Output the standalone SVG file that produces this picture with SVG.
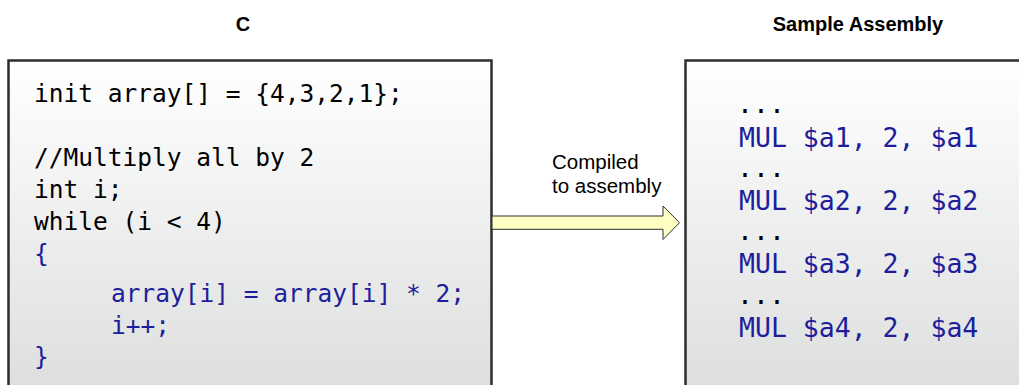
<svg xmlns="http://www.w3.org/2000/svg" width="1019" height="385" viewBox="0 0 1019 385">
<defs>
<linearGradient id="boxg" x1="0" y1="0" x2="0" y2="1">
<stop offset="0" stop-color="#ffffff"/>
<stop offset="1" stop-color="#dcdddd"/>
</linearGradient>
<style>
.box{fill:url(#boxg);stroke:#2e2e2e;stroke-width:2.5}
.title{font-family:"Liberation Sans",Arial,sans-serif;font-weight:bold;font-size:20px;fill:#000}
.code{font-family:"DejaVu Sans Mono",monospace;font-size:24.5px;fill:#000}
.asm{font-family:"DejaVu Sans Mono",monospace;font-size:26.5px}
.blue{fill:#1e1e9c}
.lbl{font-family:"Liberation Sans",Arial,sans-serif;font-size:20.5px;fill:#000}
.arrow{fill:#ffffc4;stroke:#2e2e2e;stroke-width:1}
</style>
</defs>
<rect width="1019" height="385" fill="#ffffff"/>
<g id="title-c"><text class="title" x="243" y="31" text-anchor="middle">C</text></g>
<g id="title-asm"><text class="title" x="858" y="31" text-anchor="middle">Sample Assembly</text></g>
<g id="c-code">
<rect class="box" x="8.5" y="60.5" width="483" height="340"/>
<text class="code" x="34" y="102">init array[] = {4,3,2,1};</text>
<text class="code" x="34" y="166">//Multiply all by 2</text>
<text class="code" x="34" y="198">int i;</text>
<text class="code" x="34" y="230">while (i &lt; 4)</text>
<text class="code blue" x="34" y="262">{</text>
<text class="code blue" x="111" y="302">array[i] = array[i] * 2;</text>
<text class="code blue" x="111" y="334">i++;</text>
<text class="code blue" x="34" y="365">}</text>
</g>
<g id="asm-code">
<rect class="box" x="685.5" y="60.5" width="345" height="340"/>
<text class="asm" x="737" y="113">...</text>
<text class="asm blue" x="739" y="147">MUL $a1, 2, $a1</text>
<text class="asm" x="737" y="177">...</text>
<text class="asm blue" x="739" y="210">MUL $a2, 2, $a2</text>
<text class="asm" x="737" y="240">...</text>
<text class="asm blue" x="739" y="273">MUL $a3, 2, $a3</text>
<text class="asm" x="737" y="304">...</text>
<text class="asm blue" x="739" y="337">MUL $a4, 2, $a4</text>
</g>
<g id="connectors">
<polygon class="arrow" points="492,216 663,216 663,206 679.5,222.7 663,239.5 663,229.3 492,229.3"/>
<text class="lbl" x="552" y="169">Compiled</text>
<text class="lbl" x="552" y="193">to assembly</text>
</g>
</svg>
